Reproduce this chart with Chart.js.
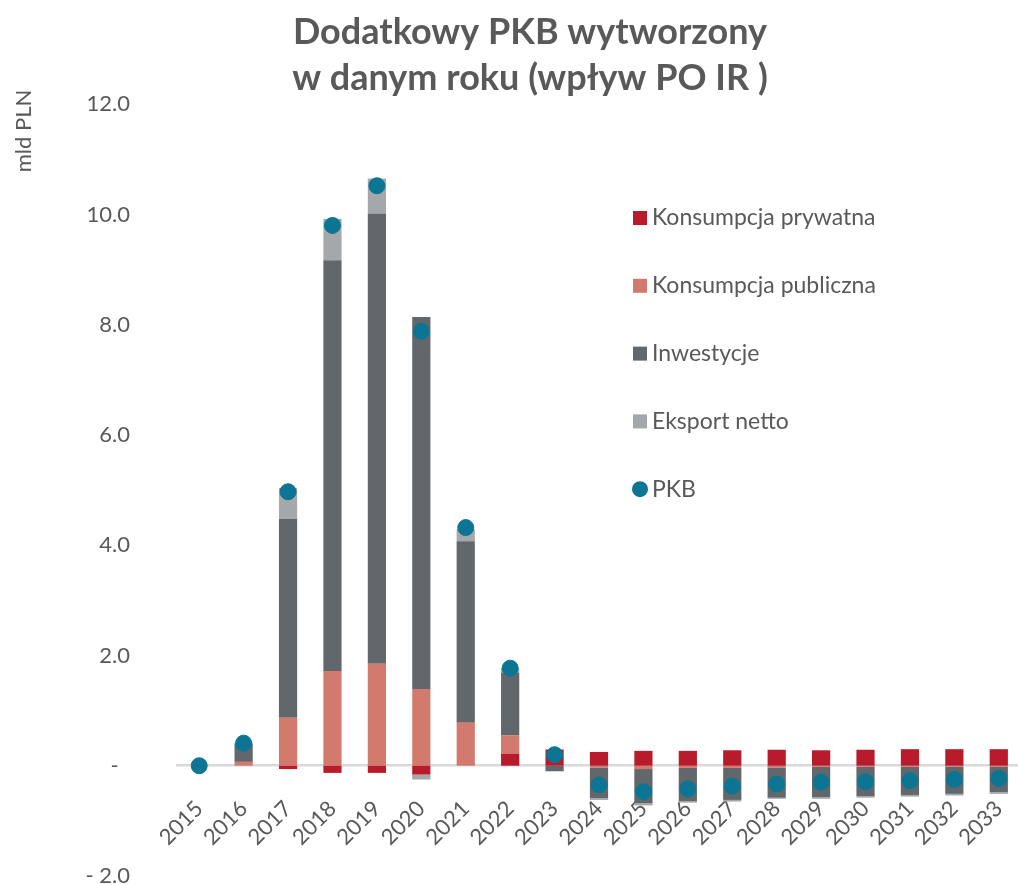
<!DOCTYPE html>
<html>
<head>
    <meta charset="utf-8">
    <title>Dodatkowy PKB wytworzony</title>
    <script src="https://cdn.jsdelivr.net/npm/chart.js"></script>
    <style>
        html, body {
            margin: 0;
            padding: 0;
            background: white;
            overflow: hidden;
        }
        .chart-container {
            position: relative;
            width: 1030px;
            height: 885px;
        }
    </style>
</head>
<body>
    <div class="chart-container">
        <canvas id="pkbChart"></canvas>
    </div>

    <script>
        // dane (mld PLN)
        const lata = ['2015', '2016', '2017', '2018', '2019', '2020', '2021', '2022', '2023', '2024',
                      '2025', '2026', '2027', '2028', '2029', '2030', '2031', '2032', '2033'];
        const konsumpcjaPrywatna = [0, 0, -0.06, -0.13, -0.13, -0.16, 0, 0.22, 0.29, 0.25,
                                    0.27, 0.27, 0.28, 0.29, 0.28, 0.29, 0.30, 0.30, 0.30];
        const konsumpcjaPubliczna = [0, 0.07, 0.87, 1.72, 1.85, 1.39, 0.78, 0.33, 0.01, -0.03,
                                     -0.06, -0.04, -0.04, -0.03, -0.02, -0.02, -0.02, -0.02, -0.02];
        const inwestycje = [0, 0.33, 3.61, 7.45, 8.16, 6.75, 3.29, 1.14, -0.10, -0.56,
                            -0.62, -0.60, -0.58, -0.55, -0.55, -0.53, -0.51, -0.49, -0.46];
        const eksportNetto = [0, 0.02, 0.56, 0.75, 0.64, -0.09, 0.22, 0.08, 0, -0.03,
                              -0.04, -0.03, -0.03, -0.02, -0.03, -0.03, -0.03, -0.03, -0.03];
        const pkb = [0, 0.41, 4.97, 9.80, 10.52, 7.88, 4.32, 1.77, 0.20, -0.35,
                     -0.47, -0.42, -0.37, -0.33, -0.30, -0.29, -0.27, -0.25, -0.23];

        const szary = '#595959';
        const czcionka = "Lato, 'Open Sans', sans-serif";

        // legenda i opis osi rysowane recznie
        const dodatki = {
            id: 'dodatki',
            afterDraw(chart) {
                const ctx = chart.ctx;
                ctx.save();
                ctx.fillStyle = szary;
                ctx.font = '22px ' + czcionka;
                ctx.textBaseline = 'middle';

                // opis osi Y
                ctx.save();
                ctx.translate(24, 131);
                ctx.rotate(-Math.PI / 2);
                ctx.textAlign = 'center';
                ctx.fillText('mld PLN', 0, 0);
                ctx.restore();

                // legenda
                ctx.font = '23px ' + czcionka;
                chart.data.datasets.forEach((ds, i) => {
                    const y = 218 + i * 67.8;
                    ctx.fillStyle = ds.backgroundColor;
                    if (ds.type === 'line') {
                        ctx.beginPath();
                        ctx.arc(640, y, 8, 0, Math.PI * 2);
                        ctx.fill();
                    } else {
                        ctx.fillRect(633, y - 7, 14, 14);
                    }
                    ctx.fillStyle = szary;
                    ctx.textAlign = 'left';
                    ctx.fillText(ds.label, 652, y);
                });
                ctx.restore();
            }
        };

        const ctx = document.getElementById('pkbChart').getContext('2d');
        new Chart(ctx, {
            type: 'bar',
            data: {
                labels: lata,
                datasets: [
                    {
                        label: 'Konsumpcja prywatna',
                        data: konsumpcjaPrywatna,
                        backgroundColor: '#B81B2B',
                        stack: 'pkb'
                    },
                    {
                        label: 'Konsumpcja publiczna',
                        data: konsumpcjaPubliczna,
                        backgroundColor: '#D27A6E',
                        stack: 'pkb'
                    },
                    {
                        label: 'Inwestycje',
                        data: inwestycje,
                        backgroundColor: '#61676A',
                        stack: 'pkb'
                    },
                    {
                        label: 'Eksport netto',
                        data: eksportNetto,
                        backgroundColor: '#A5A8AB',
                        stack: 'pkb'
                    },
                    {
                        type: 'line',
                        label: 'PKB',
                        data: pkb,
                        backgroundColor: '#0C7593',
                        borderColor: '#0C7593',
                        showLine: false,
                        pointRadius: 8,
                        pointHoverRadius: 8,
                        stack: 'kropki',
                        order: -1
                    }
                ]
            },
            options: {
                responsive: true,
                maintainAspectRatio: false,
                animation: false,
                layout: {
                    padding: { top: 9, right: 6, left: 36, bottom: 9 }
                },
                datasets: {
                    bar: {
                        categoryPercentage: 1,
                        barPercentage: 0.41,
                        clip: false
                    }
                },
                plugins: {
                    legend: { display: false },
                    tooltip: { enabled: false },
                    title: {
                        display: true,
                        text: ['Dodatkowy PKB wytworzony', 'w danym roku (wpływ PO IR )'],
                        color: szary,
                        font: { family: czcionka, size: 36, weight: 'bold', lineHeight: 1.28 },
                        padding: { top: 0, bottom: 3 }
                    }
                },
                scales: {
                    x: {
                        position: { y: 0 },
                        grid: { display: false },
                        border: { display: true, color: '#D9D9D9', width: 2.5 },
                        afterFit(scale) {
                            scale.height = 0;
                            scale.paddingLeft = 0;
                            scale.paddingRight = 0;
                        },
                        ticks: {
                            color: szary,
                            font: { family: czcionka, size: 22 },
                            minRotation: 45,
                            maxRotation: 45,
                            padding: 22
                        }
                    },
                    y: {
                        stacked: true,
                        min: -2,
                        max: 12,
                        grid: { display: false, drawTicks: false },
                        border: { display: false },
                        afterFit(scale) {
                            // os zaczyna sie od x = 177, bez dodatkowego marginesu od etykiet
                            scale.width = 141;
                            scale.paddingTop = 0;
                            scale.paddingBottom = 0;
                        },
                        ticks: {
                            stepSize: 2,
                            color: szary,
                            font: { family: czcionka, size: 22 },
                            padding: 47,
                            callback: (v) => {
                                if (v === 0) return '-  ';
                                if (v < 0) return '- ' + Math.abs(v).toFixed(1);
                                return v.toFixed(1);
                            }
                        }
                    }
                }
            },
            plugins: [dodatki]
        });
    </script>
</body>
</html>
